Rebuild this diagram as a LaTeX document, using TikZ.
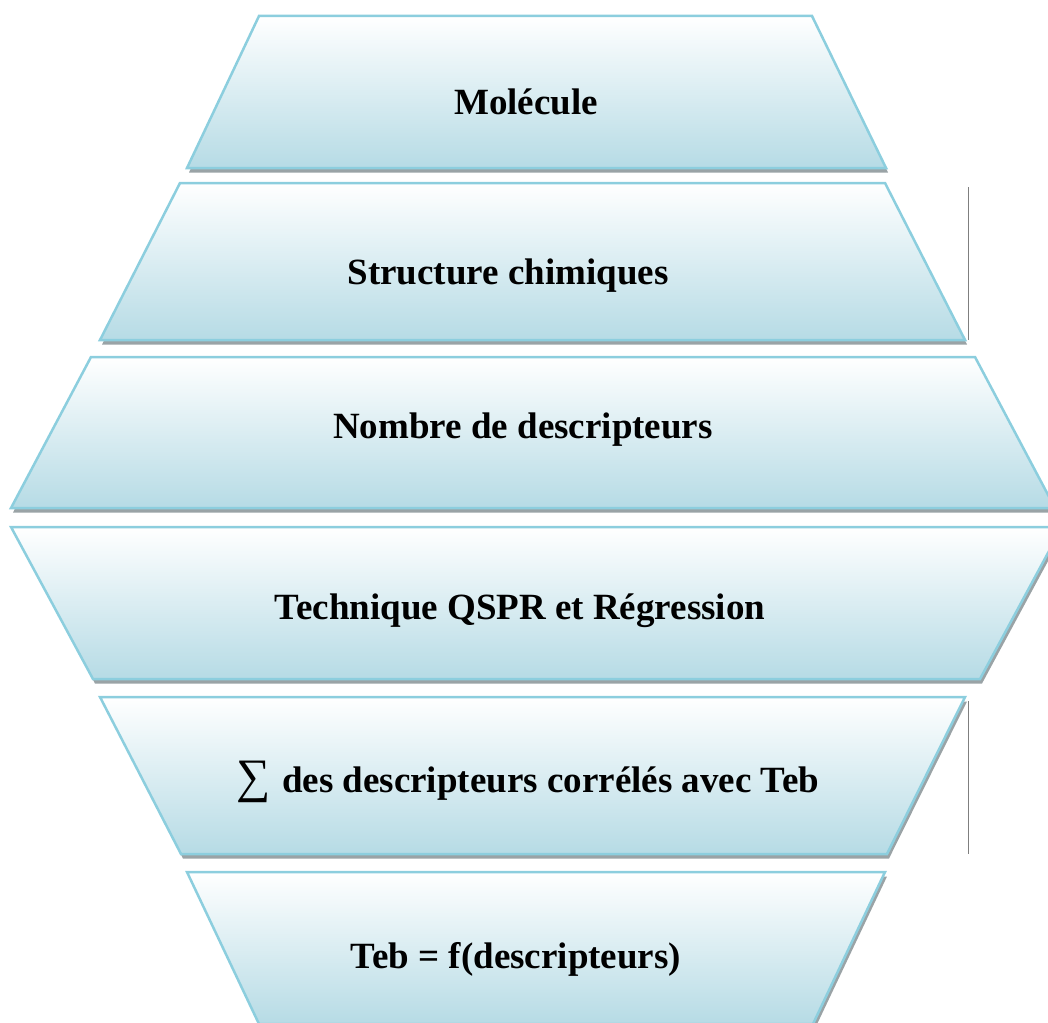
\documentclass[tikz,border=0pt]{standalone}
\usepackage{fontspec}
\setmainfont{Liberation Serif}
\usepackage{xcolor}
\definecolor{boxtop}{HTML}{FFFFFF}
\definecolor{boxbottom}{HTML}{B6DBE5}
\definecolor{boxline}{HTML}{8CCEDE}
\definecolor{boxshadow}{HTML}{9AA3A6}
\definecolor{textdark}{HTML}{000000}
\definecolor{rulegray}{HTML}{7F7F7F}
\usepackage{tikz}
\usetikzlibrary{shapes,shadows,positioning}

\begin{document}
\begin{tikzpicture}[x=1pt, y=-1pt,
    stepbox/.style={draw=boxline, line width=2.5pt, line join=miter,
      top color=boxtop, bottom color=boxbottom,
      drop shadow={shadow xshift=2pt, shadow yshift=-4.5pt, fill=boxshadow, opacity=1}},
    lbl/.style={font=\bfseries\fontsize{37}{40}\selectfont, text=textdark, anchor=base, inner sep=0pt}]
        \useasboundingbox (0,0) rectangle (1048,1022);
        \clip (0,0) rectangle (1048,1022);
        % widening steps
        \path[stepbox] (259,16) -- (812,16) -- (886,168) -- (187,168) -- cycle;
        \path[stepbox] (180,183) -- (885,183) -- (965,340) -- (100,340) -- cycle;
        \path[stepbox] (91,357) -- (975,357) -- (1055,508) -- (11,508) -- cycle;
        % narrowing steps
        \path[stepbox] (11,527) -- (1062,527) -- (980,679) -- (93,679) -- cycle;
        \path[stepbox] (100,697) -- (965,697) -- (887,854) -- (181,854) -- cycle;
        \path[stepbox] (187,872) -- (885,872) -- (813,1024) -- (259,1024) -- cycle;
        \node[lbl] (tmol) at (526,114) {Molécule};
        \node[lbl] (tstruct) at (508,284) {Structure chimiques};
        \node[lbl] (tnombre) at (523,438) {Nombre de descripteurs};
        \node[lbl] (tqspr) at (520,619) {Technique QSPR et Régression};
        \node[lbl] (tsomme) at (528,792) {{\mdseries\fontsize{48}{50}\selectfont ∑}\hspace{0.3em}des descripteurs corrélés avec Teb};
        \node[lbl] (tteb) at (516,968) {Teb = f(descripteurs)};
        \draw[rulegray, line width=1pt] (968,187) -- (968,340);
        \draw[rulegray, line width=1pt] (968,701) -- (968,854);
      \end{tikzpicture}
\end{document}
